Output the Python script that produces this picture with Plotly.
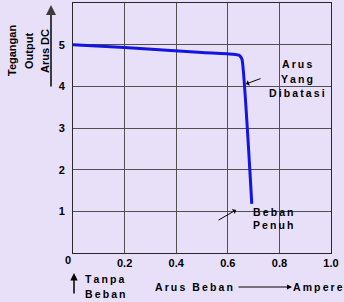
import plotly.graph_objects as go

# Data
arus = [0.0, 0.2, 0.5, 0.62, 0.645, 0.655, 0.693]
tegangan = [5.0, 4.93, 4.81, 4.77, 4.74, 4.65, 1.18]

x_ticks = [0, 0.2, 0.4, 0.6, 0.8, 1.0]
x_ticklabels = ["", "0.2", "0.4", "0.6", "0.8", "1.0"]
y_ticks = [1, 2, 3, 4, 5, 6]
y_ticklabels = ["1", "2", "3", "4", "5", "6"]

BG = "rgb(232,224,248)"
FONT = "Liberation Sans, Arial, sans-serif"
TS = "\u2009"  # thin space for letter tracking


def tracked(s):
    return TS.join(list(s))


fig = go.Figure()
fig.add_trace(go.Scatter(
    x=arus, y=tegangan, mode="lines", line_shape="spline",
    line=dict(color="rgb(20,20,225)", width=3, smoothing=0.4),
    hoverinfo="skip", showlegend=False,
))

grid = "rgb(80,80,80)"
fig.update_layout(
    width=344, height=302,
    margin=dict(l=73, r=13, t=3, b=49),
    paper_bgcolor=BG, plot_bgcolor=BG,
    font=dict(family=FONT, color="black", size=10),
    xaxis=dict(
        range=[0, 1], tickvals=x_ticks,
        ticktext=["<b>%s</b>" % t for t in x_ticklabels],
        showgrid=True, gridcolor=grid, gridwidth=1,
        zeroline=False, showline=True, linecolor="rgb(40,40,40)", linewidth=1,
        mirror=True, ticks="", tickfont=dict(size=11, family=FONT),
        fixedrange=True,
    ),
    yaxis=dict(
        range=[0, 6], tickvals=y_ticks,
        ticktext=["<b>%s</b>" % t for t in y_ticklabels],
        showgrid=True, gridcolor=grid, gridwidth=1,
        zeroline=False, showline=True, linecolor="rgb(40,40,40)", linewidth=1,
        mirror=True, ticks="", tickfont=dict(size=11, family=FONT),
        ticklabelstandoff=5, fixedrange=True,
    ),
)


def px2paper(px, py):
    return (px - 73) / 258.0, (253 - py) / 250.0


anns = []


def label(txt, px, py, size=10, xanchor="center", angle=0):
    x, y = px2paper(px, py)
    anns.append(dict(text="<b>%s</b>" % txt, x=x, y=y, xref="paper", yref="paper",
                     showarrow=False, textangle=angle, xanchor=xanchor, yanchor="middle",
                     font=dict(size=size, family=FONT, color="black")))


def arrow(px, py, ax, ay, head, width, color="black"):
    x, y = px2paper(px, py)
    anns.append(dict(x=x, y=y, xref="paper", yref="paper", ax=ax, ay=ay, text="",
                     showarrow=True, arrowhead=head, arrowsize=1, arrowwidth=width,
                     arrowcolor=color))


# Y axis title (three rotated lines)
for txt, px in [("Tegangan", 12), ("Output", 29), ("Arus DC", 45)]:
    label(txt, px, 51, size=11, angle=-90)
arrow(51, 5, 0, 83, 2, 2, "rgb(60,60,60)")

# "0" at origin
label("0", 68, 260, size=11)

# Arus Yang Dibatasi
for txt, py in [("Arus", 64), ("Yang", 79), ("Dibatasi", 93)]:
    label(tracked(txt), 297, py, size=10.5)
arrow(246, 84, 16, -6, 1, 1)

# Beban Penuh
for txt, py in [("Beban", 212), ("Penuh", 225)]:
    label(tracked(txt), 273, py, size=10.5)
arrow(236, 210, -19, 11, 1, 1)

# Tanpa Beban with up arrow
for txt, py in [("Tanpa", 279), ("Beban", 294)]:
    label(tracked(txt), 83, py, size=10.5, xanchor="left")
arrow(74, 273, 0, 22, 2, 1.5)

# Arus Beban ---> Ampere
label(tracked("Arus Beban"), 235, 287, size=10.5, xanchor="right")
arrow(292, 287, -55, 0, 2, 1)
label(tracked("Ampere"), 291, 287, size=10.5, xanchor="left")

fig.update_layout(annotations=anns)
fig.write_html("out.html")
